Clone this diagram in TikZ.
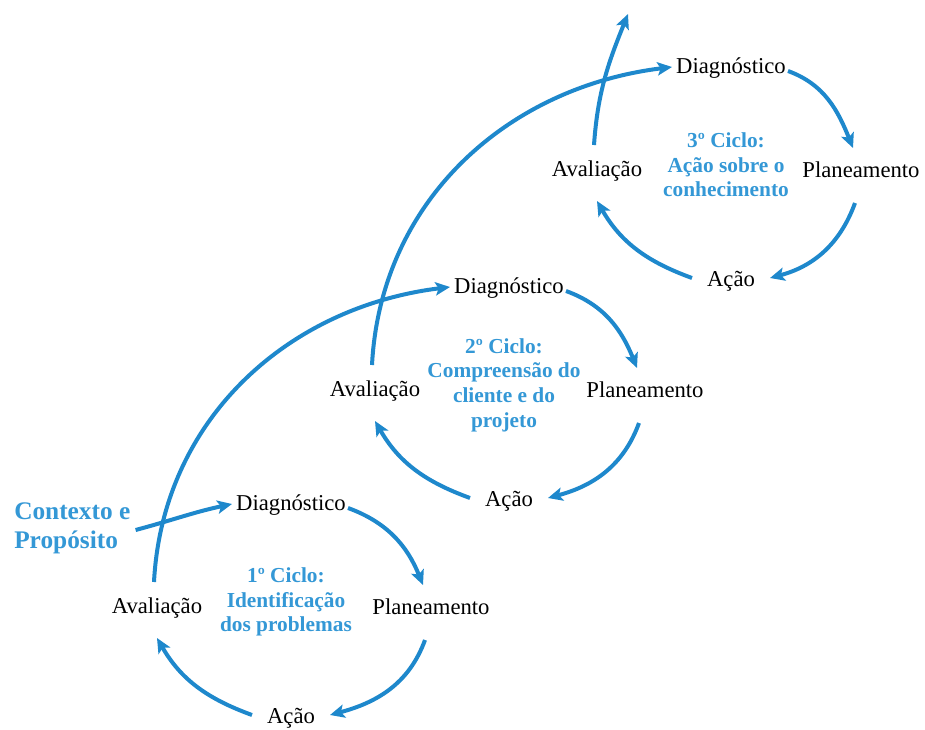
\documentclass[tikz,border=0pt]{standalone}
\usepackage{fontspec}
\setmainfont{Liberation Serif}
\usetikzlibrary{arrows.meta,calc}
\definecolor{arrblue}{RGB}{30,136,204}
\definecolor{txtblue}{RGB}{52,152,214}
\tikzset{
  stage/.style={font=\fontsize{17}{20}\selectfont, inner sep=0pt},
  cyclabel/.style={font=\bfseries\fontsize{16}{18.5}\selectfont, text=txtblue, align=center, inner sep=0pt},
  ctxlabel/.style={font=\bfseries\fontsize{19}{22}\selectfont, text=txtblue, align=left, inner sep=0pt},
  flow/.style={draw=arrblue, line width=3pt, -{Stealth[length=11pt,width=10pt,inset=2.5pt]}},
}
% One action-research cycle: #1,#2 offset, #3 name suffix, #4 cycle title,
% #5 horizontal nudge of the planning node
\newcommand\actioncycle[5]{%
  \node[stage] (D#3) at ({291+#1},{-505+#2}) {Diagnóstico};
  \node[stage] (P#3) at ({431+#1+#5},{-607+#2}) {Planeamento};
  \node[stage] (A#3) at ({291+#1},{-718+#2}) {Ação};
  \node[stage] (V#3) at ({157+#1},{-608+#2}) {Avaliação};
  \node[cyclabel] (L#3) at ({286+#1},{-602+#2}) {#4};
  \draw[flow] ($(D#3)+(57,-3)$) to[out=-20,in=112] ($(P#3)+(-8,22)$);
  \draw[flow] ($(P#3)+(-6,-33)$) to[out=-110,in=15] ($(A#3)+(39,3)$);
  \draw[flow] ($(A#3)+(-39,3)$) to[out=160,in=-60] ($(V#3)+(0,-30)$);
}
\begin{document}
\begin{tikzpicture}[x=0.75pt,y=0.75pt]
  \useasboundingbox (0,0) rectangle (925,-729);
  \fill[white] (0,0) rectangle (925,-729);

  \actioncycle{0}{0}{1}{1º Ciclo:\\Identificação\\dos problemas}{0}
  \actioncycle{218}{217}{2}{2º Ciclo:\\Compreensão do\\cliente e do\\projeto}{-4}
  \actioncycle{440}{437}{3}{3º Ciclo:\\Ação sobre o\\conhecimento}{-10}

  \node[ctxlabel, anchor=west] (ctx) at (14,-528) {Contexto e\\Propósito};
  \draw[flow] ($(ctx.east)+(5,-2)$) to[out=15,in=192] ($(D1)+(-59,1)$);

  % links from each evaluation to the next cycle
  \draw[flow] ($(V1)+(-3,26)$) to[out=87,in=187] ($(D2)+(-59,1)$);
  \draw[flow] ($(V2)+(-3,26)$) to[out=87,in=187] ($(D3)+(-59,1)$);
  \coordinate (top) at (628,-14);
  \draw[flow] ($(V3)+(-3,26)$) to[out=86,in=-112] (top);
\end{tikzpicture}
\end{document}
